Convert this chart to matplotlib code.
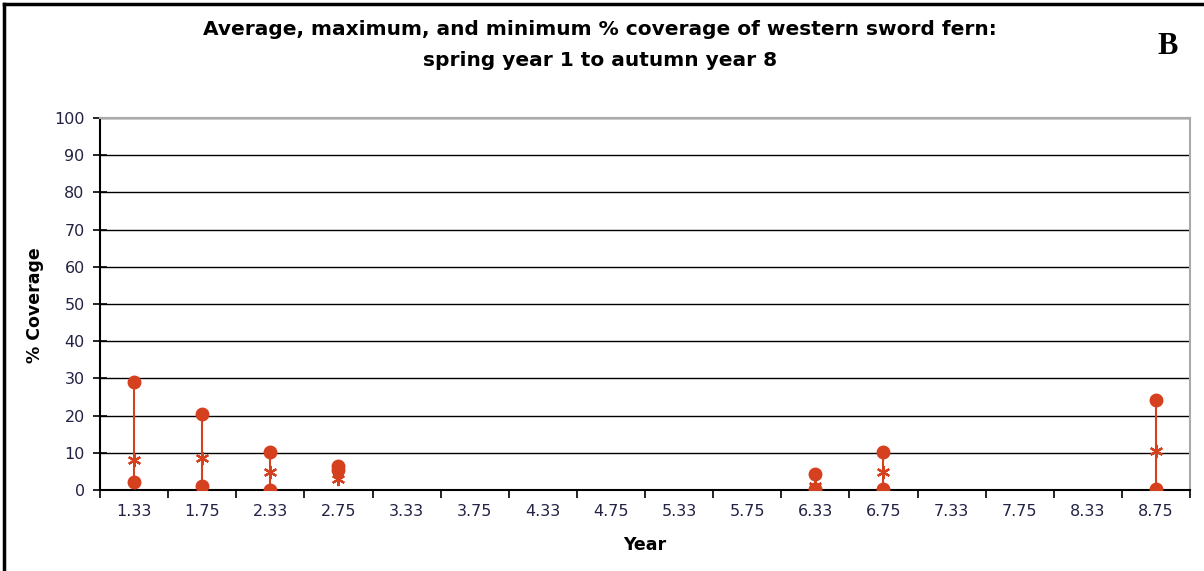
import matplotlib
matplotlib.use("Agg")
import matplotlib.pyplot as plt
import numpy as np
from matplotlib.lines import Line2D

categories = ["1.33", "1.75", "2.33", "2.75", "3.33", "3.75", "4.33", "4.75",
              "5.33", "5.75", "6.33", "6.75", "7.33", "7.75", "8.33", "8.75"]
max_cov = [29, 20.3, 10.2, 6.4, None, None, None, None, None, None, 4.4, 10.1, None, None, None, 24.1]
min_cov = [2.1, 1.1, 0.1, 5.4, None, None, None, None, None, None, 0.2, 0.2, None, None, None, 0.2]
avg_cov = [8.0, 8.6, 4.8, 3.0, None, None, None, None, None, None, 1.2, 4.8, None, None, None, 10.4]
y_ticks = [0, 10, 20, 30, 40, 50, 60, 70, 80, 90, 100]

red = "#D5401F"
fig = plt.figure(figsize=(12.04, 5.71), dpi=100)
ax = fig.add_axes([100/1204, 1-490/571, 1090/1204, 372/571])

x = np.arange(len(categories))
for i in range(len(categories)):
    if max_cov[i] is not None:
        ax.vlines(x[i], min_cov[i], max_cov[i], color=red, lw=1.5, zorder=3)
def arr(v):
    return np.array([np.nan if a is None else a for a in v], dtype=float)
ax.plot(x, arr(max_cov), 'o', color=red, ms=9, zorder=4, ls='none')
ax.plot(x, arr(min_cov), 'o', color=red, ms=9, zorder=4, ls='none')
ax.plot(x, arr(avg_cov), marker=(6, 2, 0), color=red, ms=9.5, mew=1.6, zorder=5, ls='none')

ax.set_xlim(-0.5, len(categories)-0.5)
ax.set_ylim(0, 100)
ax.set_yticks(y_ticks)
ax.set_yticklabels([str(t) for t in y_ticks], fontsize=11.5, color="#222244", family="DejaVu Sans")
ax.yaxis.grid(True, color='black', lw=1.0)
ax.set_axisbelow(True)

ax.set_xticks(np.arange(-0.5, len(categories), 1.0))
ax.set_xticklabels([])
ax.set_xticks(x, minor=True)
ax.set_xticklabels(categories, minor=True, fontsize=11.5, color="#222244", family="DejaVu Sans")
ax.tick_params(axis='x', which='major', direction='out', length=6, width=1.2)
ax.tick_params(axis='x', which='minor', length=0, pad=10)
ax.tick_params(axis='y', direction='inout', length=10, width=1.2, pad=6)

for s in ['left', 'bottom']:
    ax.spines[s].set_color('black')
    ax.spines[s].set_linewidth(1.5)
for s in ['top', 'right']:
    ax.spines[s].set_color('#aaaaaa')
    ax.spines[s].set_linewidth(1.5)

fig.text(35/1204, 1-305/571, "% Coverage", rotation=90, ha='center', va='center',
         fontsize=12.5, fontweight='bold', family="DejaVu Sans")
fig.text(645/1204, 1-545/571, "Year", ha='center', va='center',
         fontsize=12.5, fontweight='bold', family="DejaVu Sans")
fig.text(600/1204, 1-45/571, "Average, maximum, and minimum % coverage of western sword fern:\nspring year 1 to autumn year 8",
         ha='center', va='center', fontsize=14.5, fontweight='bold', family="DejaVu Sans", linespacing=1.75)
fig.text(1168/1204, 1-46/571, "B", ha='center', va='center', fontsize=22,
         fontweight='bold', family="Liberation Serif")

# figure frame (left and top edges)
fig.add_artist(Line2D([4/1204, 4/1204], [0, 1-4/571], color='black', lw=2.5, transform=fig.transFigure))
fig.add_artist(Line2D([4/1204, 1], [1-4/571, 1-4/571], color='black', lw=2.5, transform=fig.transFigure))

fig.savefig("out.png", dpi=100)
